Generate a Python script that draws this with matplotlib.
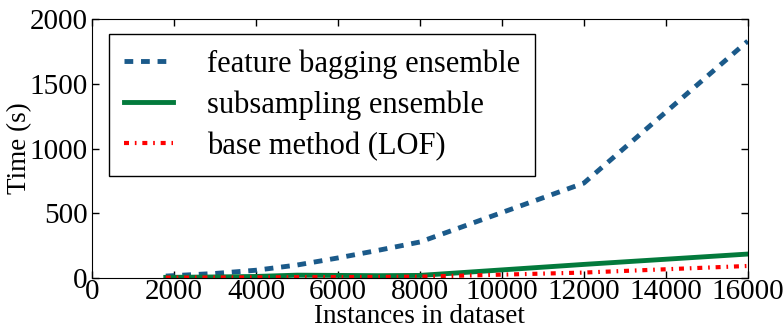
import numpy as np
import matplotlib
matplotlib.use("Agg")
import matplotlib.pyplot as plt

plt.rcParams['font.family'] = ['Liberation Serif', 'DejaVu Serif']
plt.rcParams['font.size'] = 21

sizes = [1800, 3000, 4000, 5000, 6000, 7000, 8000, 12000, 16000]
feature_bagging = [15, 35, 60, 100, 155, 215, 278, 733, 1830]
subsampling = [5, 8, 12, 22, 20, 18, 20, 105, 185]
base_lof = [3, 4, 5, 6, 7, 8, 10, 42, 93]

fig = plt.figure(figsize=(7.83, 3.29), dpi=100)
ax = fig.add_axes([0.1175, 0.155, 0.8375, 0.787])

ax.plot(sizes, feature_bagging, '--', color='#1b5a8a', lw=3.5, dashes=(1.8, 1.6),
        label='feature bagging ensemble')
ax.plot(sizes, subsampling, '-', color='#037a3c', lw=3.5, label='subsampling ensemble')
ax.plot(sizes, base_lof, '-.', color='#ff0000', lw=3.0, dashes=(1.2, 1.4, 0.4, 1.4),
        label='base method (LOF)')

ax.set_xlim(0, 16000)
ax.set_ylim(0, 2000)
ax.set_xticks(np.arange(0, 16001, 2000))
ax.set_yticks(np.arange(0, 2001, 500))
ax.tick_params(direction='in', top=True, right=True, length=5, width=1)
ax.tick_params(axis='x', pad=1)
ax.tick_params(axis='y', pad=3)
ax.set_xlabel('Instances in dataset', fontsize=19.5, labelpad=-1)
ax.set_ylabel('Time (s)', fontsize=19.5, labelpad=-2)

leg = ax.legend(loc='upper left', bbox_to_anchor=(0.026, 0.942), borderaxespad=0,
                fancybox=False, edgecolor='black', framealpha=1, handlelength=1.6,
                borderpad=0.5, labelspacing=0.38, handletextpad=1.1, prop={'size': 22})
leg.get_frame().set_linewidth(1)

fig.savefig('out.png', dpi=100)
